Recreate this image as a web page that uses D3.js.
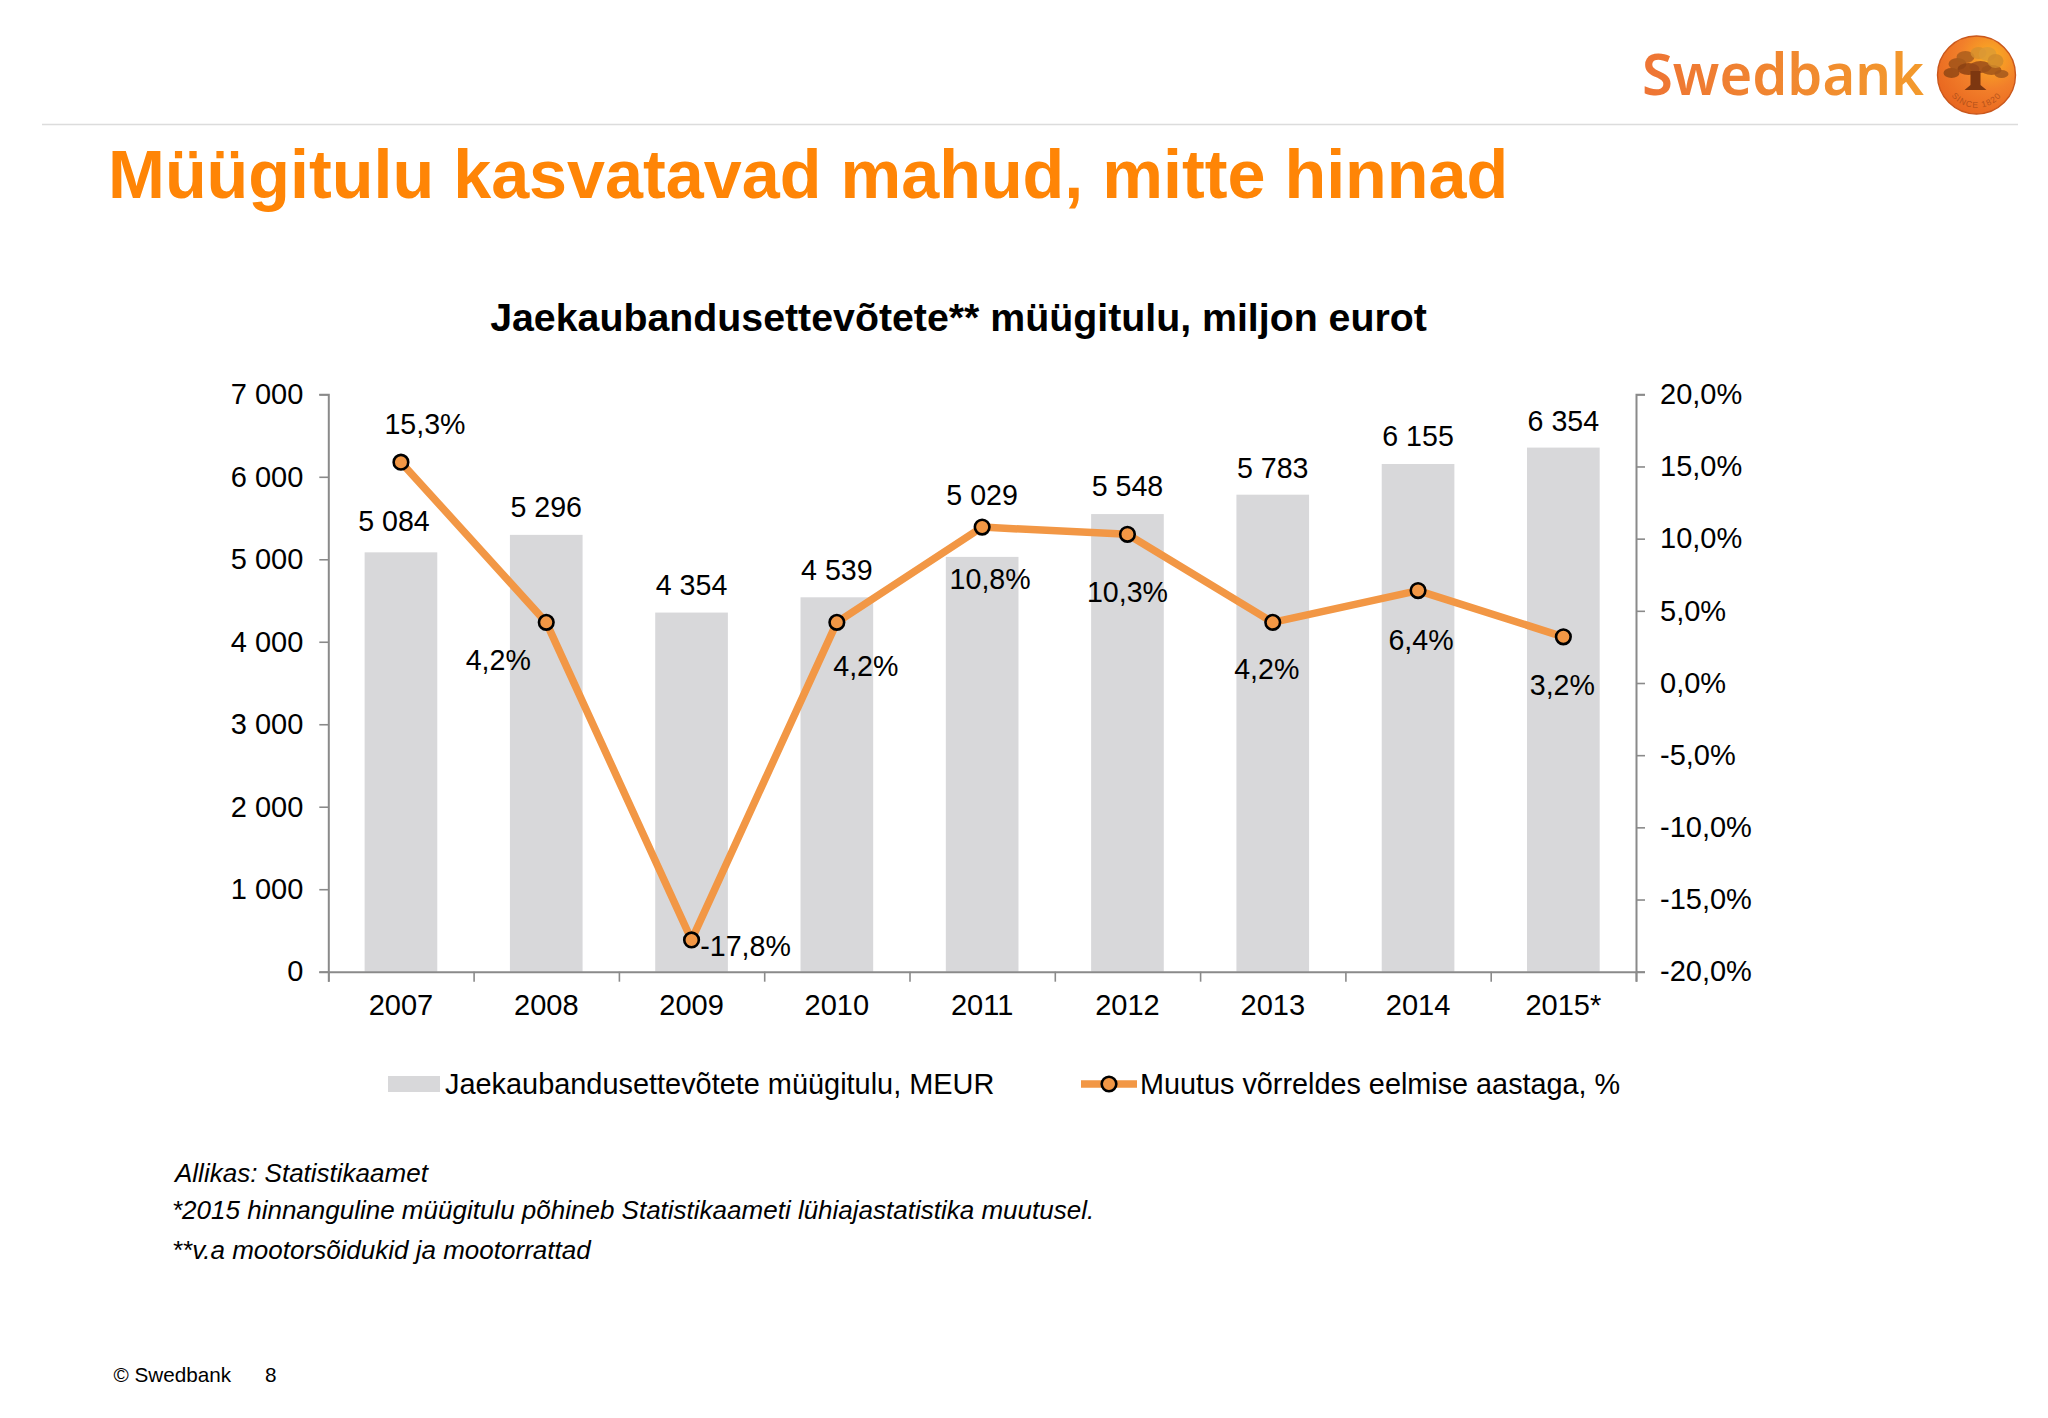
<!DOCTYPE html>
<html><head><meta charset="utf-8">
<script src="https://cdn.jsdelivr.net/npm/d3@7/dist/d3.min.js"></script>
<style>
html,body{margin:0;padding:0;background:#fff}
text{font-family:"Liberation Sans",Arial,sans-serif;fill:#000}
</style></head><body><svg id="c" width="2048" height="1418"></svg>
<script>
const years=["2007","2008","2009","2010","2011","2012","2013","2014","2015*"];
const sales=[5084,5296,4354,4539,5029,5548,5783,6155,6354];
const salesLabels=["5 084","5 296","4 354","4 539","5 029","5 548","5 783","6 155","6 354"];
const change=[15.3,4.2,-17.8,4.2,10.8,10.3,4.2,6.4,3.2];
const changeLabels=["15,3%","4,2%","-17,8%","4,2%","10,8%","10,3%","4,2%","6,4%","3,2%"];
const leftTicks=[0,1000,2000,3000,4000,5000,6000,7000];
const rightTicks=[-20,-15,-10,-5,0,5,10,15,20];
const footnotes=["Allikas: Statistikaamet","*2015 hinnanguline müügitulu põhineb Statistikaameti lühiajastatistika muutusel.","**v.a mootorsõidukid ja mootorrattad"];
const barName="Jaekaubandusettevõtete müügitulu, MEUR";
const lineName="Muutus võrreldes eelmise aastaga, %";
const title="Müügitulu kasvatavad mahud, mitte hinnad";
const chartTitle="Jaekaubandusettevõtete** müügitulu, miljon eurot";

// label placement, separate from the data
const barLabelGap=[31,28,28,27,62,28,27,28,27];
const barLabelDx=[-7,0,0,0,0,0,0,0,0];
const lineLabelDx=[24,-48,54,29,8,0,-6,3,-1];
const lineLabelDy=[-38,38,6,44,52,58,47,49,48];

const L=328.3,R=1636,T=394.3,B=971.7;
const svg=d3.select("#c");
const defs=svg.append("defs");
const tg=defs.append("linearGradient").attr("id","lg").attr("x1",0).attr("x2",1).attr("y1",0).attr("y2",0);
tg.append("stop").attr("offset",0).attr("stop-color","#ee7434");
tg.append("stop").attr("offset",1).attr("stop-color","#f39a2c");
const cg=defs.append("radialGradient").attr("id","cg").attr("cx",.68).attr("cy",.28).attr("r",.8);
cg.append("stop").attr("offset",0).attr("stop-color","#fbb022");
cg.append("stop").attr("offset",.5).attr("stop-color","#f27f2a");
cg.append("stop").attr("offset",1).attr("stop-color","#e8651f");

// header
svg.append("line").attr("x1",42).attr("x2",2018).attr("y1",124.5).attr("y2",124.5).attr("stroke","#dcdcdc").attr("stroke-width",1.3);
svg.append("text").attr("x",1642).attr("y",95).attr("textLength",282).attr("lengthAdjust","spacingAndGlyphs")
  .style("font-family","'Noto Sans'").style("font-weight",600).style("font-size","58px").style("fill","url(#lg)").text("Swedbank");
const logo=svg.append("g").attr("transform","translate(1976.5,75)");
logo.append("circle").attr("r",39).attr("fill","url(#cg)").attr("stroke","#c9571c").attr("stroke-width",1.4);
const foliage=[[-25,-2,8,5,"#8f4514"],[-19,-11,9,6,"#9c5018"],[-11,-18,9,6,"#a85c1c"],[-8,-6,11,6,"#8a4012"],[4,-8,11,6,"#96481a"],[15,-5,10,5,"#9c5018"],[25,-1,7,4,"#a0561c"],
  [2,-22,8,6,"#d6902e"],[11,-21,9,7,"#dc9a34"],[19,-14,8,7,"#d08a2c"]];
logo.selectAll("ellipse").data(foliage).join("ellipse")
  .attr("cx",d=>d[0]).attr("cy",d=>d[1]).attr("rx",d=>d[2]).attr("ry",d=>d[3]).attr("fill",d=>d[4]).attr("opacity",.82);
logo.append("path").attr("d","M-6,-4 L4,-4 L4,10 L10,15 L-12,15 L-6,10 Z").attr("fill","#7d3710");
defs.append("path").attr("id","arc").attr("d","M-30,12 A32,32 0 0 0 30,12");
logo.append("text").style("font-size","8.5px").style("fill","#b5521a").style("letter-spacing","1px")
  .append("textPath").attr("href","#arc").attr("startOffset","50%").attr("text-anchor","middle").text("SINCE 1820");

svg.append("text").attr("x",108).attr("y",198).style("font-size","68.3px").style("font-weight",700).style("fill","#ff8506").text(title);
svg.append("text").attr("x",958.5).attr("y",331).attr("text-anchor","middle").style("font-size","39.3px").style("font-weight",700).text(chartTitle);

// scales
const x=d3.scaleBand().domain(years).range([L,R]).paddingInner(0.5).paddingOuter(0.25);
const xEdge=d3.scaleLinear().domain([0,years.length]).range([L,R]);
const yL=d3.scaleLinear().domain([0,7000]).range([B,T]);
const yR=d3.scaleLinear().domain([-20,20]).range([B,T]);
const cx=y=>x(y)+x.bandwidth()/2;
const sp=f=>d3.format(",")(f).replace(/,/g," ");

// bars
svg.selectAll("rect.bar").data(sales).join("rect").attr("class","bar")
  .attr("x",(d,i)=>x(years[i])).attr("width",x.bandwidth()).attr("y",d=>yL(d)).attr("height",d=>B-yL(d)).attr("fill","#d8d8da");

// axes
const axisCol="#8a8a8a";
function style(g){g.select(".domain").attr("stroke",axisCol).attr("stroke-width",2);
  g.selectAll(".tick line").attr("stroke",axisCol).attr("stroke-width",1.6);
  g.selectAll("text").style("font-size","29px").style("font-family",'"Liberation Sans"').attr("fill","#000");}
svg.append("g").attr("transform",`translate(${L},0)`)
  .call(d3.axisLeft(yL).tickValues(leftTicks).tickSizeOuter(0).tickSize(9).tickPadding(16).tickFormat(sp)).call(style);
svg.append("g").attr("transform",`translate(${R},0)`)
  .call(d3.axisRight(yR).tickValues(rightTicks).tickSizeOuter(0).tickSize(9).tickPadding(15)
    .tickFormat(d=>d3.format(".1f")(d).replace(".",",").replace("\u2212","-")+"%")).call(style);
svg.append("g").attr("transform",`translate(0,${B})`)
  .call(d3.axisBottom(xEdge).tickValues(d3.range(0,years.length+1)).tickSizeOuter(0).tickSize(10).tickFormat(""))
  .call(style);
const xl=svg.append("g").attr("transform",`translate(0,${B})`)
  .call(d3.axisBottom(x).tickSize(0).tickPadding(23));
xl.select(".domain").remove();
xl.selectAll("text").style("font-size","29px").style("font-family",'"Liberation Sans"').attr("fill","#000");

// line
const line=d3.line().x((d,i)=>cx(years[i])).y(d=>yR(d));
const orange="#f29745";
svg.append("path").attr("d",line(change)).attr("fill","none").attr("stroke",orange).attr("stroke-width",7.5).attr("stroke-linejoin","round");
svg.selectAll("circle.pt").data(change).join("circle").attr("class","pt")
  .attr("cx",(d,i)=>cx(years[i])).attr("cy",d=>yR(d)).attr("r",7.3).attr("fill",orange).attr("stroke","#000").attr("stroke-width",2.6);

// data labels
svg.selectAll("text.bl").data(salesLabels).join("text").attr("class","bl")
  .attr("x",(d,i)=>cx(years[i])+barLabelDx[i]).attr("y",(d,i)=>yL(sales[i])-barLabelGap[i])
  .attr("dy","0.35em").attr("text-anchor","middle").style("font-size","28.6px").text(d=>d);
svg.selectAll("text.ll").data(changeLabels).join("text").attr("class","ll")
  .attr("x",(d,i)=>cx(years[i])+lineLabelDx[i]).attr("y",(d,i)=>yR(change[i])+lineLabelDy[i])
  .attr("dy","0.35em").attr("text-anchor","middle").style("font-size","28.6px").text(d=>d);

// legend
const lg=svg.append("g");
lg.append("rect").attr("x",388).attr("y",1076).attr("width",52).attr("height",16).attr("fill","#d8d8da");
lg.append("text").attr("x",445).attr("y",1084).attr("dy","0.35em").style("font-size","28.9px").text(barName);
lg.append("line").attr("x1",1081).attr("x2",1137).attr("y1",1084).attr("y2",1084).attr("stroke",orange).attr("stroke-width",7.5);
lg.append("circle").attr("cx",1109).attr("cy",1084).attr("r",7.3).attr("fill",orange).attr("stroke","#000").attr("stroke-width",2.6);
lg.append("text").attr("x",1140).attr("y",1084).attr("dy","0.35em").style("font-size","28.8px").text(lineName);

// notes
const noteX=[175,172,172],noteY=[1173,1210,1250];
svg.selectAll("text.fn").data(footnotes).join("text").attr("class","fn")
  .attr("x",(d,i)=>noteX[i]).attr("y",(d,i)=>noteY[i]).attr("dy","0.35em")
  .style("font-size","26px").style("font-style","italic").text(d=>d);
svg.append("text").attr("x",113.5).attr("y",1375).attr("dy","0.35em").style("font-size","20.7px").text("© Swedbank");
svg.append("text").attr("x",265).attr("y",1375).attr("dy","0.35em").style("font-size","20.7px").text("8");
</script></body></html>
